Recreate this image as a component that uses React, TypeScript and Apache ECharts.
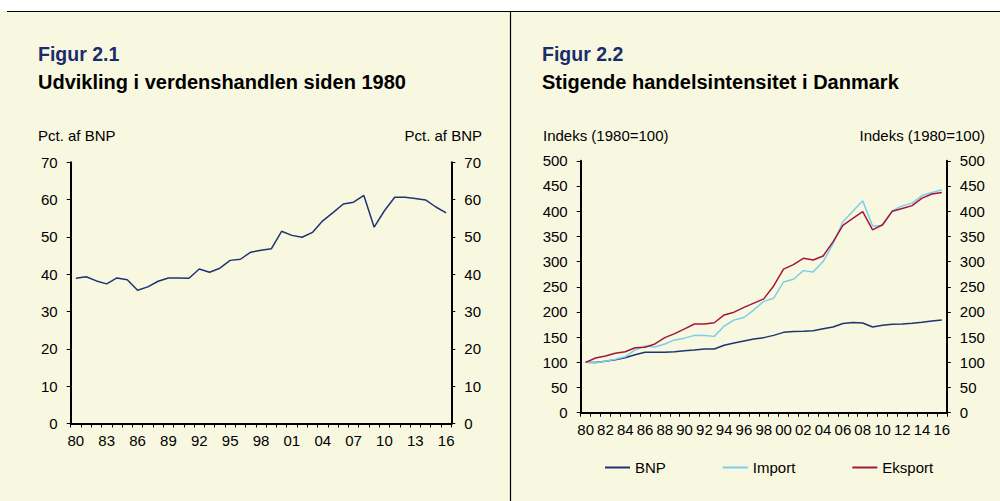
import React, { useEffect, useRef } from "react";
import * as echarts from "echarts";

const yearLabels = [
  "80", "81", "82", "83", "84", "85", "86", "87", "88", "89",
  "90", "91", "92", "93", "94", "95", "96", "97", "98", "99",
  "00", "01", "02", "03", "04", "05", "06", "07", "08", "09",
  "10", "11", "12", "13", "14", "15", "16",
];

// Figur 2.1 – world trade, pct. of GDP
const worldTrade = [
  38.9, 39.3, 38.2, 37.4, 39.0, 38.5, 35.7, 36.6, 38.1, 39.0,
  39.0, 38.9, 41.4, 40.5, 41.6, 43.7, 44.0, 45.9, 46.4, 46.8,
  51.5, 50.4, 49.9, 51.2, 54.3, 56.5, 58.8, 59.3, 61.1, 52.6,
  57.0, 60.6, 60.6, 60.3, 59.9, 58.0, 56.4,
];

// Figur 2.2 – Denmark, index 1980=100
const bnp = [
  100, 99.5, 102, 105, 109, 115, 120, 120, 120, 121,
  123, 124.5, 126.5, 126.5, 134, 138.5, 142.5, 146.5, 149, 153.5,
  159.5, 161, 161.5, 162.5, 166.5, 170, 177, 179, 178, 170,
  173.5, 175.5, 176, 177.5, 179.5, 182, 184,
];
const importIdx = [
  100, 99, 102, 106, 111, 124.5, 132.5, 130.5, 136.5, 144.5,
  148, 153.5, 153, 151.5, 172, 184, 189, 204, 221, 227,
  259.5, 265, 282, 279.5, 300, 335, 379, 400, 420.5, 370.5,
  371.5, 401, 410.5, 416, 431, 437, 442.5,
];
const eksportIdx = [
  100, 108.5, 112.5, 118, 121, 129, 130, 136.5, 149, 157,
  166.5, 176, 176, 178.5, 194, 199.5, 209, 217.5, 226, 251.5,
  285, 294, 306.5, 303, 311, 339, 372, 385.5, 399, 363,
  373, 400, 405.5, 411, 426, 434, 437,
];

const seriesNames = ["BNP", "Import", "Eksport"];
const leftTicks = { min: 0, max: 70, interval: 10 };
const rightTicks = { min: 0, max: 500, interval: 50 };

const FONT = '"Liberation Sans", Arial, Helvetica, sans-serif';
const BG = "#F8F8E1";
const NAVY = "#1F3473";
const LIGHTBLUE = "#7ECDEB";
const DARKRED = "#A3163C";
const TITLE_BLUE = "#1A2D6B";

export default function App() {
  const ref = useRef<HTMLDivElement>(null);

  useEffect(() => {
    if (!ref.current) return;
    const chart = echarts.init(ref.current, undefined, { renderer: "svg" });

    const axisLine = { show: true, lineStyle: { color: "#000", width: 2 } };
    const axisTick = { show: true, length: 4, inside: false, lineStyle: { color: "#000", width: 1 } };
    const labelStyle = { fontSize: 15, color: "#000", fontFamily: FONT };

    const xAxisBase = (gridIndex: number, interval: number) => ({
      type: "category" as const,
      gridIndex,
      data: yearLabels,
      boundaryGap: true,
      axisLine,
      axisTick: { ...axisTick, interval: 0, alignWithLabel: false },
      axisLabel: { ...labelStyle, interval, margin: 9 },
      splitLine: { show: false },
    });

    const yAxisBase = (gridIndex: number, position: "left" | "right", t: any) => ({
      type: "value" as const,
      gridIndex,
      position,
      min: t.min,
      max: t.max,
      interval: t.interval,
      axisLine,
      axisTick,
      axisLabel: { ...labelStyle, margin: 13 },
      splitLine: { show: false },
    });

    const text = (x: number, y: number, t: string, opts: any = {}) => ({
      type: "text",
      x,
      y,
      z: 10,
      style: {
        text: t,
        fill: opts.fill || "#000",
        fontSize: opts.fontSize || 15,
        fontWeight: opts.fontWeight || "normal",
        fontFamily: FONT,
        align: opts.align || "left",
        verticalAlign: "middle",
      },
    });

    const colors = [NAVY, LIGHTBLUE, DARKRED];
    const dkSeries = [bnp, importIdx, eksportIdx].map((d, i) => ({
      name: seriesNames[i],
      type: "line",
      xAxisIndex: 1,
      yAxisIndex: 2,
      data: d,
      symbol: "none",
      lineStyle: { color: colors[i], width: 1.5 },
      itemStyle: { color: colors[i] },
    }));

    chart.setOption({
      animation: false,
      backgroundColor: BG,
      grid: [
        { left: 70.7, top: 162.2, width: 380.6, height: 261.3 },
        { left: 580.7, top: 160.8, width: 366.1, height: 251.9 },
      ],
      xAxis: [xAxisBase(0, 2), xAxisBase(1, 1)],
      yAxis: [
        yAxisBase(0, "left", leftTicks),
        yAxisBase(0, "right", leftTicks),
        yAxisBase(1, "left", rightTicks),
        yAxisBase(1, "right", rightTicks),
      ],
      legend: {
        data: seriesNames.map((n) => ({ name: n, icon: "rect" })),
        left: 600,
        top: 455,
        padding: 5,
        itemWidth: 25,
        itemHeight: 2,
        itemGap: 57,
        textStyle: { ...labelStyle },
      },
      series: [
        {
          name: "Verdenshandel",
          type: "line",
          xAxisIndex: 0,
          yAxisIndex: 0,
          data: worldTrade,
          symbol: "none",
          lineStyle: { color: NAVY, width: 1.5 },
          itemStyle: { color: NAVY },
        },
        ...dkSeries,
      ],
      graphic: [
        { type: "rect", shape: { x: 0, y: 0, width: 1000, height: 11 }, style: { fill: "#fff" }, z: 1 },
        { type: "line", shape: { x1: 7, y1: 11.5, x2: 1000, y2: 11.5 }, style: { stroke: "#000", lineWidth: 1.2 }, z: 2 },
        { type: "line", shape: { x1: 510.5, y1: 11.5, x2: 510.5, y2: 501 }, style: { stroke: "#000", lineWidth: 1.2 }, z: 2 },
        text(38, 53.5, "Figur 2.1", { fontSize: 19.5, fontWeight: "bold", fill: TITLE_BLUE }),
        text(38, 82, "Udvikling i verdenshandlen siden 1980", { fontSize: 20, fontWeight: "bold" }),
        text(38, 135, "Pct. af BNP"),
        text(482, 135, "Pct. af BNP", { align: "right" }),
        text(542, 53.5, "Figur 2.2", { fontSize: 19.5, fontWeight: "bold", fill: TITLE_BLUE }),
        text(542, 82, "Stigende handelsintensitet i Danmark", { fontSize: 20, fontWeight: "bold" }),
        text(543, 135, "Indeks (1980=100)"),
        text(985, 135, "Indeks (1980=100)", { align: "right" }),
      ],
    });

    return () => chart.dispose();
  }, []);

  return (
    <div
      ref={ref}
      style={{ position: "fixed", left: 0, top: 0, width: 1000, height: 501, background: "#fff" }}
    />
  );
}
